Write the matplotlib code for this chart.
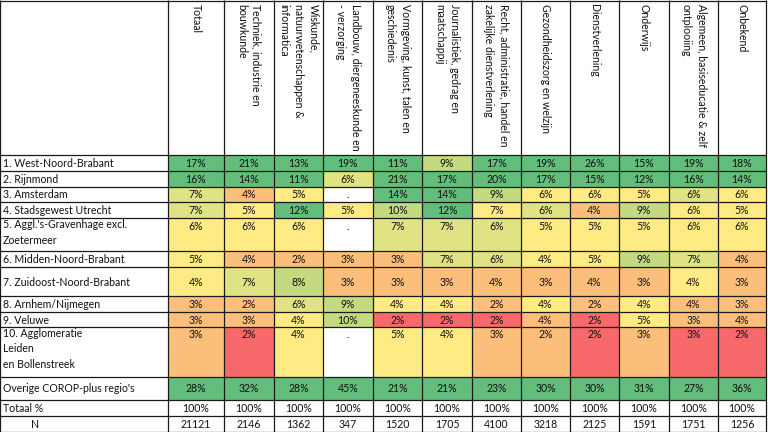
import matplotlib
matplotlib.use("Agg")
import matplotlib.pyplot as plt
from matplotlib.patches import Rectangle

plt.rcParams['font.family'] = ['Lato', 'DejaVu Sans']

# Kolomkoppen (opleidingsrichting)
columns = [
    "Totaal",
    "Techniek, industrie en\nbouwkunde",
    "Wiskunde,\nnatuurwetenschappen &\ninformatica",
    "Landbouw, diergeneeskunde en\n- verzorging",
    "Vormgeving, kunst, talen en\ngeschiedenis",
    "Journalistiek, gedrag en\nmaatschappij",
    "Recht, administratie, handel en\nzakelijke dienstverlening",
    "Gezondheidszorg en welzijn",
    "Dienstverlening",
    "Onderwijs",
    "Algemeen, basiseducatie & zelf\nontplooiing",
    "Onbekend",
]

# Regio's (rijen)
regions = [
    "1. West-Noord-Brabant",
    "2. Rijnmond",
    "3. Amsterdam",
    "4. Stadsgewest Utrecht",
    "5. Aggl.'s-Gravenhage excl.\nZoetermeer",
    "6. Midden-Noord-Brabant",
    "7. Zuidoost-Noord-Brabant",
    "8. Arnhem/Nijmegen",
    "9. Veluwe",
    "10. Agglomeratie\nLeiden\nen Bollenstreek",
    "Overige COROP-plus regio's",
]

# Percentages per regio (None = geen waarde '.')
pct = [
    [17, 21, 13, 19, 11, 9, 17, 19, 26, 15, 19, 18],
    [16, 14, 11, 6, 21, 17, 20, 17, 15, 12, 16, 14],
    [7, 4, 5, None, 14, 14, 9, 6, 6, 5, 6, 6],
    [7, 5, 12, 5, 10, 12, 7, 6, 4, 9, 6, 5],
    [6, 6, 6, None, 7, 7, 6, 5, 5, 5, 6, 6],
    [5, 4, 2, 3, 3, 7, 6, 4, 5, 9, 7, 4],
    [4, 7, 8, 3, 3, 3, 4, 3, 4, 3, 4, 3],
    [3, 2, 6, 9, 4, 4, 2, 4, 2, 4, 4, 3],
    [3, 3, 4, 10, 2, 2, 2, 4, 2, 5, 3, 4],
    [3, 2, 4, None, 5, 4, 3, 2, 2, 3, 3, 2],
    [28, 32, 28, 45, 21, 21, 23, 30, 30, 31, 27, 36],
]

# Kleurklasse per cel zoals in de bron (G groen .. r rood, w wit)
color_class = [
    "GGGGGgGGGGGG",
    "GGGlGGGGGGGG",
    "loywGGgyyyly",
    "lyGygGylogyy",
    "yyywlllyyyyy",
    "yoooollyygl" + "o",
    "ylgoooooooyo",
    "oolgyyoyoyoo",
    "ooygrrroryoo",
    "orywyyoororr",
    "GGGGGGGGGGGG",
]

totals = [100] * 12
n_values = [21121, 2146, 1362, 347, 1520, 1705, 4100, 3218, 2125, 1591, 1751, 1256]

palette = {
    "G": "#63BE7B",
    "g": "#C4D980",
    "l": "#E0E383",
    "y": "#FFEB84",
    "o": "#FCBF7B",
    "r": "#F8696B",
    "w": "#FFFFFF",
}

# layout in pixels
col_widths = [168, 56, 50, 49, 50, 49, 50, 49, 49, 49, 50, 49, 48]
header_h = 155
row_heights = [16, 16, 15, 16, 33, 16, 29, 16, 15, 50, 23, 16, 16]

col_edges = [0]
for w in col_widths:
    col_edges.append(col_edges[-1] + w)
row_edges = [header_h]
for h in row_heights:
    row_edges.append(row_edges[-1] + h)

fig = plt.figure(figsize=(7.68, 4.32), dpi=100)
ax = fig.add_axes([0, 0, 1, 1])
ax.set_xlim(0, 768)
ax.set_ylim(432, 0)
ax.axis("off")

fs = 7.6
txt_col = "#111111"
line_col = "#1a1a1a"
lw = 0.9

# header
for j, name in enumerate(columns):
    xc = (col_edges[j + 1] + col_edges[j + 2]) / 2
    ax.text(xc, 4, name, rotation=-90, ha="center", va="top",
            fontsize=fs, linespacing=1.45, color=txt_col, multialignment="left")

all_rows = regions + ["Totaal %", "N"]
for i, label in enumerate(all_rows):
    top, bot = row_edges[i], row_edges[i + 1]
    multi = "\n" in label
    ty = top + 8 if multi else (top + bot) / 2 + 0.5
    if label == "N":
        ax.text(35, ty, label, ha="center", va="center", fontsize=fs, color=txt_col)
    elif multi:
        ax.text(3, top + 1, label, ha="left", va="top", fontsize=fs,
                linespacing=1.5, color=txt_col)
    else:
        ax.text(3, ty, label, ha="left", va="center", fontsize=fs, color=txt_col)
    for j in range(12):
        x0, x1 = col_edges[j + 1], col_edges[j + 2]
        if i < len(regions):
            c = palette[color_class[i][j]]
            v = pct[i][j]
            s = "." if v is None else f"{v}%"
        elif label == "Totaal %":
            c = "#FFFFFF"
            s = f"{totals[j]}%"
        else:
            c = "#FFFFFF"
            s = str(n_values[j])
        ax.add_patch(Rectangle((x0, top), x1 - x0, bot - top, facecolor=c,
                               edgecolor="none", zorder=1))
        ax.text((x0 + x1) / 2, ty, s, ha="center", va="center", fontsize=fs,
                color=txt_col, zorder=3)

# grid lines
for x in col_edges:
    ax.plot([x, x], [0, row_edges[-1]], color=line_col, lw=lw, zorder=2,
            solid_capstyle="butt")
for y in [0.5] + row_edges:
    ax.plot([0, col_edges[-1]], [y, y], color=line_col, lw=lw, zorder=2,
            solid_capstyle="butt")

fig.savefig("out.png", dpi=100)
